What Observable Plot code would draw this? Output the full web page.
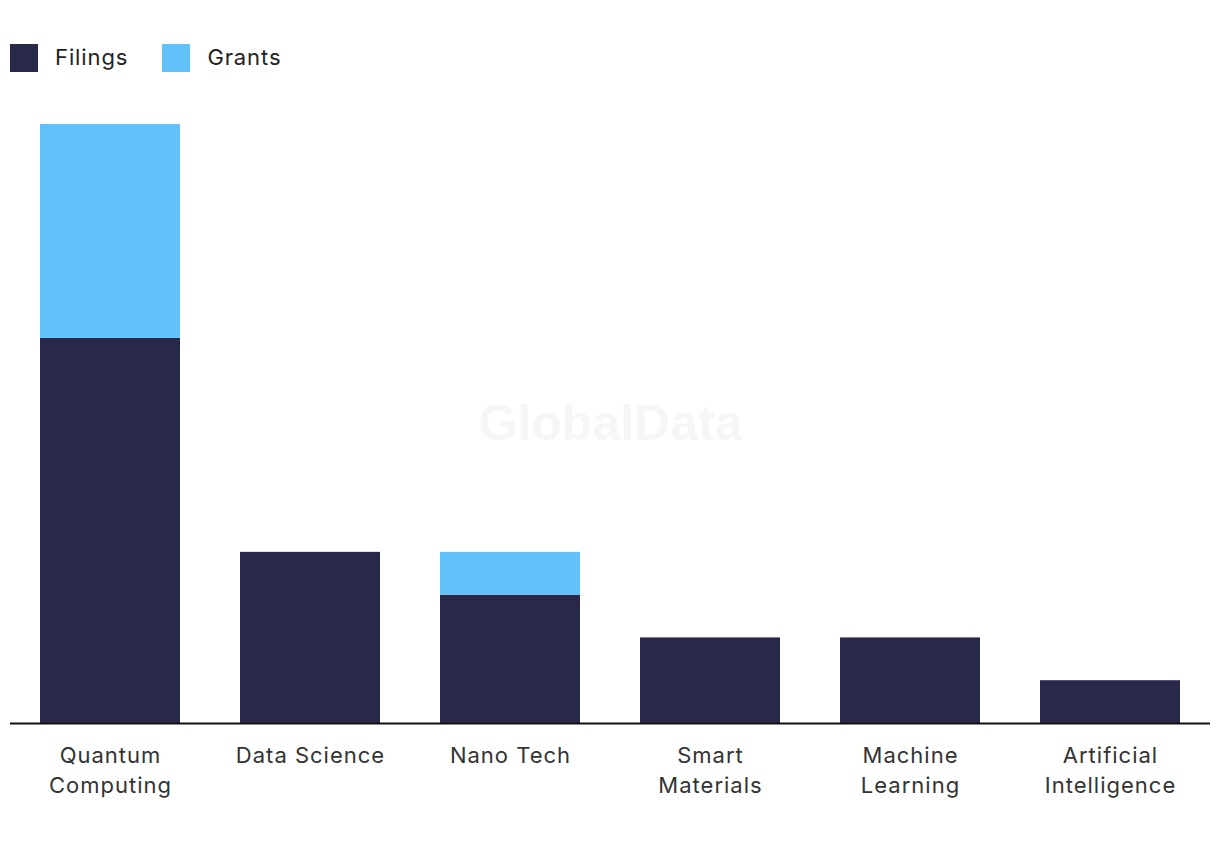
<!DOCTYPE html>
<html>
<head>
<meta charset="utf-8">
<script src="https://cdn.jsdelivr.net/npm/d3@7"></script>
<script src="https://cdn.jsdelivr.net/npm/@observablehq/plot@0.6"></script>
<style>
  html, body { margin: 0; padding: 0; background: #fff; }
  body { width: 1220px; height: 850px; overflow: hidden; font-family: Inter, Roboto, sans-serif; }
  #legend { display: flex; align-items: center; height: 30px; padding: 43px 0 0 10px; box-sizing: content-box; }
  .item { display: flex; align-items: center; margin-right: 34px; font-size: 22px; color: #222; letter-spacing: 0.9px; }
  .item span:last-child { position: relative; top: -1px; }
  .sw { width: 28px; height: 28px; margin-right: 17px; }
  #chart { margin-top: 27px; }
  #chart svg g[aria-label="x-axis tick label"] text { letter-spacing: 1px; }
</style>
</head>
<body>
<div id="legend"></div>
<div id="chart"></div>
<script>
const categories = ["Quantum Computing", "Data Science", "Nano Tech", "Smart Materials", "Machine Learning", "Artificial Intelligence"];
const tickLabels = ["Quantum\nComputing", "Data Science", "Nano Tech", "Smart\nMaterials", "Machine\nLearning", "Artificial\nIntelligence"];
const seriesNames = ["Filings", "Grants"];
const seriesColors = ["#28284a", "#62c1f8"];
const filings = [9, 4, 3, 2, 2, 1];
const grants = [5, 0, 1, 0, 0, 0];

const data = [];
categories.forEach((c, i) => {
  data.push({category: c, series: "Filings", value: filings[i]});
  data.push({category: c, series: "Grants", value: grants[i]});
});

const legend = document.getElementById("legend");
seriesNames.forEach((s, i) => {
  const it = document.createElement("div");
  it.className = "item";
  it.innerHTML = `<span class="sw" style="background:${seriesColors[i]}"></span><span>${s}</span>`;
  legend.appendChild(it);
});

const labelMap = new Map(categories.map((c, i) => [c, tickLabels[i]]));

const chart = Plot.plot({
  width: 1220,
  height: 750,
  marginTop: 24,
  marginBottom: 127,
  marginLeft: 10,
  marginRight: 10,
  style: {fontFamily: "Inter, Roboto, sans-serif", fontSize: "22px", color: "#333", background: "#fff"},
  x: {domain: categories, paddingInner: 0.3, paddingOuter: 0.15, label: null},
  y: {domain: [0, 14], axis: null},
  color: {domain: seriesNames, range: seriesColors},
  marks: [
    Plot.text(["GlobalData"], {frameAnchor: "middle", text: d => d, fontSize: 50, fontWeight: "bold", fill: "#f6f6f6", fontFamily: "'Liberation Sans', Arial, sans-serif"}),
    Plot.barY(data, {x: "category", y: "value", fill: "series", order: seriesNames}),
    Plot.ruleY([0], {stroke: "#111", strokeWidth: 2}),
    Plot.axisX({tickSize: 0, tickPadding: 18, tickFormat: d => labelMap.get(d), fontSize: 22, lineHeight: 1.36, fill: "#333", label: null})
  ]
});
document.getElementById("chart").appendChild(chart);
</script>
</body>
</html>
